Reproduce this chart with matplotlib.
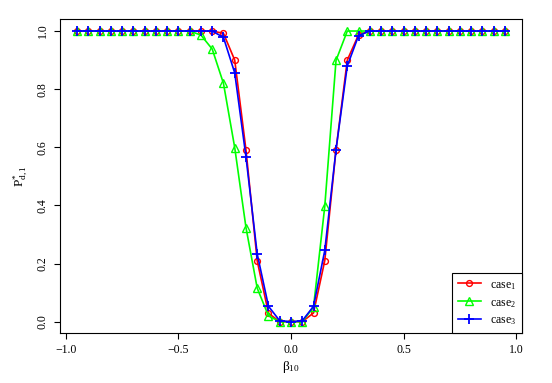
import numpy as np
import matplotlib
matplotlib.use("Agg")
import matplotlib.pyplot as plt

plt.rcParams['font.family'] = ['Liberation Serif', 'DejaVu Serif']
plt.rcParams['mathtext.fontset'] = 'custom'
plt.rcParams['mathtext.rm'] = 'Liberation Serif'
plt.rcParams['mathtext.it'] = 'Liberation Serif:italic'
plt.rcParams['mathtext.bf'] = 'Liberation Serif:bold'

beta = np.round(np.arange(-0.95, 0.951, 0.05), 2)

# values for beta = -0.95 ... 0.95 (step 0.05)
case1 = ([1.0] * 13 +
         [0.992, 0.90, 0.591, 0.209, 0.029, 0.0] +
         [0.0] +
         [0.0, 0.03, 0.21, 0.592, 0.90, 0.987] +
         [1.0] * 13)
case2 = ([1.0] * 11 +
         [0.986, 0.938, 0.82, 0.599, 0.324, 0.115, 0.02, 0.0] +
         [0.0] +
         [0.0, 0.05, 0.397, 0.899, 1.0, 1.0] +
         [1.0] * 13)
case3 = ([1.0] * 13 +
         [0.978, 0.856, 0.567, 0.233, 0.053, 0.003] +
         [0.0] +
         [0.003, 0.053, 0.245, 0.592, 0.88, 0.984] +
         [1.0] * 13)

labels = ['case$_1$', 'case$_2$', 'case$_3$']

fig = plt.figure(figsize=(5.52, 3.83), dpi=100)
ax = fig.add_axes([60/552, 1-333.3/383, 462/552, 313.9/383])

ax.plot(beta, case1, color='#ff0000', lw=1.2, marker='o', ms=4.2, mfc='none', mew=1.0, label=labels[0])
ax.plot(beta, case2, color='#00ff00', lw=1.2, marker='^', ms=5.5, mfc='none', mew=1.0, label=labels[1])
ax.plot(beta, case3, color='#0000ff', lw=1.2, marker='+', ms=7, mew=1.3, label=labels[2])

ax.set_xlim(-1.026, 1.026)
ax.set_ylim(-0.04, 1.04)
ax.set_xticks([-1.0, -0.5, 0.0, 0.5, 1.0])
ax.set_xticklabels(['\u22121.0', '\u22120.5', '0.0', '0.5', '1.0'])
ax.set_yticks([0.0, 0.2, 0.4, 0.6, 0.8, 1.0])
ax.set_yticklabels(['0.0', '0.2', '0.4', '0.6', '0.8', '1.0'], rotation=90, va='center')
ax.tick_params(direction='out', length=4, width=0.8, labelsize=8.5, pad=4)
for s in ax.spines.values():
    s.set_linewidth(0.8)

ax.set_xlabel(r'$\mathregular{\beta_{10}}$', fontsize=9.5, labelpad=2)
ax.set_ylabel(r'$\mathregular{P^{*}_{d,1}}$', fontsize=9.5, labelpad=5)

leg = ax.legend(loc='lower right', borderaxespad=0, fancybox=False, edgecolor='black',
                framealpha=1, fontsize=8.5, handlelength=1.9, borderpad=0.5,
                labelspacing=0.4, handletextpad=0.8, handleheight=1.0)
leg.get_frame().set_linewidth(0.8)

fig.savefig('out.png', dpi=100)
